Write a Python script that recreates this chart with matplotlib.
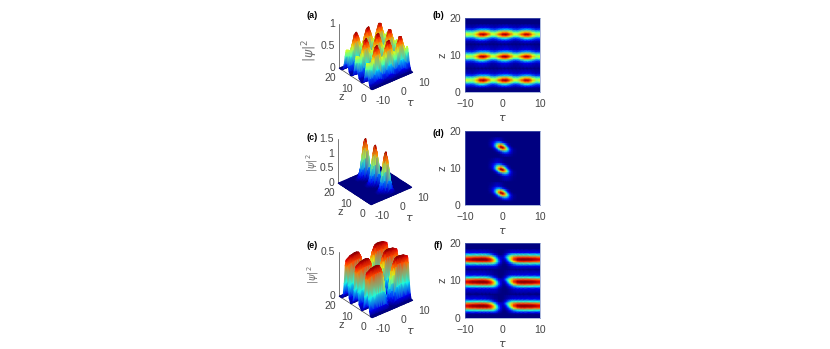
import numpy as np
from matplotlib import pyplot as plt
from mpl_toolkits.mplot3d import proj3d

W, H = 830, 349
GREY = '#444444'
PALE = '#707070'
plt.rcParams['font.family'] = ['Liberation Sans', 'DejaVu Sans']
plt.rcParams['mathtext.fontset'] = 'dejavusans'

# z positions of the three bands and the rows read around each of them
z_a = [0, 1.0, 1.5, 2.1, 2.7, 3.0, 3.3, 3.6, 3.9, 4.5, 5.1, 6.4,
       7.9, 8.5, 9.1, 9.4, 9.7, 10.0, 10.3, 10.9, 11.5, 13,
       13.9, 14.5, 15.1, 15.4, 15.7, 16.0, 16.3, 16.9, 17.5, 18.5, 20]

# panels (a), (b): |psi|^2 read across one band, tau = -10 ... 10
tau_a = [-10, -9, -8, -7, -6, -5, -4, -3, -2, -1, 0, 1, 2, 3, 4, 5, 6, 7, 8, 9, 10]
band_a = [
    [.06, .05, .05, .07, .10, .10, .07, .04, .04, .07, .10, .10, .07, .04, .04, .07, .10, .10, .07, .05, .06],
    [.16, .16, .15, .22, .30, .30, .21, .14, .14, .21, .29, .30, .21, .14, .14, .21, .30, .30, .22, .15, .16],
    [.38, .36, .33, .46, .61, .62, .49, .34, .33, .48, .61, .62, .49, .34, .33, .48, .61, .62, .46, .33, .38],
    [.46, .44, .40, .54, .70, .74, .61, .44, .43, .59, .72, .74, .60, .44, .43, .59, .72, .71, .54, .40, .46],
    [.51, .49, .45, .59, .78, .82, .70, .51, .49, .66, .80, .82, .67, .51, .49, .66, .80, .78, .59, .45, .51],
    [.45, .44, .41, .52, .69, .71, .64, .48, .45, .58, .70, .72, .61, .47, .44, .58, .69, .68, .52, .41, .45],
    [.36, .35, .34, .43, .57, .59, .52, .39, .37, .48, .58, .60, .51, .38, .36, .48, .57, .57, .43, .34, .36],
    [.16, .15, .14, .19, .25, .26, .25, .18, .16, .21, .25, .27, .24, .17, .16, .21, .25, .25, .19, .14, .16],
    [.05, .05, .04, .06, .08, .08, .08, .06, .05, .07, .08, .09, .07, .06, .05, .07, .08, .08, .06, .04, .05],
]

# panels (c), (d)
tau_c = [-10, -4, -3, -2.5, -2, -1.5, -1, -.5, 0, .5, 1, 1.5, 2, 2.5, 3, 4, 10]
band_c = [
    [0, 0, 0, 0, 0, 0, .01, .04, .07, .11, .13, .12, .09, .05, .02, 0, 0],
    [0, 0, 0, 0, .01, .04, .10, .20, .33, .41, .40, .30, .18, .08, .03, 0, 0],
    [0, 0, 0, .02, .07, .20, .43, .73, .96, .98, .78, .49, .24, .09, .03, 0, 0],
    [0, 0, .01, .05, .15, .37, .70, 1.07, 1.25, 1.13, .80, .44, .19, .06, .02, 0, 0],
    [0, 0, .03, .10, .28, .60, 1.01, 1.34, 1.37, 1.10, .68, .33, .12, .04, .01, 0, 0],
    [0, 0, .05, .15, .37, .72, 1.08, 1.25, 1.13, .80, .44, .18, .06, .01, 0, 0, 0],
    [0, 0, .06, .16, .38, .67, .92, 1.0, .84, .55, .28, .11, .03, .01, 0, 0, 0],
    [0, 0, .06, .14, .25, .37, .42, .37, .25, .14, .06, .02, 0, 0, 0, 0, 0],
    [0, 0, .04, .06, .10, .13, .12, .09, .05, .02, .01, 0, 0, 0, 0, 0, 0],
]

# panels (e), (f)
tau_e = [-10, -8, -6, -5, -4, -3, -2.5, -2, -1.5, -1, -.5, 0, .5, 1, 1.5, 2, 2.5, 3, 4, 5, 6, 8, 10]
band_e = [
    [.05, .05, .05, .05, .05, .05, .05, .05, .04, .02, .01, 0, 0, 0, .01, .02, .03, .04, .05, .05, .05, .05, .05],
    [.18, .19, .20, .20, .20, .20, .19, .16, .12, .07, .03, .01, 0, .01, .03, .06, .09, .13, .18, .19, .20, .19, .18],
    [.39, .41, .42, .42, .42, .40, .35, .29, .20, .12, .06, .02, .01, .04, .08, .15, .23, .32, .40, .42, .42, .41, .39],
    [.44, .47, .48, .48, .48, .43, .38, .30, .19, .11, .05, .02, .02, .06, .13, .22, .31, .39, .46, .48, .48, .47, .44],
    [.46, .49, .50, .50, .49, .44, .38, .29, .19, .10, .05, .02, .03, .08, .17, .27, .36, .43, .49, .50, .50, .49, .46],
    [.44, .47, .48, .48, .46, .40, .33, .24, .15, .08, .04, .03, .04, .11, .19, .28, .36, .42, .47, .48, .48, .47, .44],
    [.39, .41, .42, .42, .40, .33, .26, .18, .11, .06, .04, .03, .07, .15, .22, .29, .35, .39, .42, .42, .42, .41, .39],
    [.18, .19, .20, .20, .18, .13, .09, .06, .03, .01, 0, .01, .03, .07, .12, .16, .19, .20, .20, .20, .20, .19, .18],
    [.05, .05, .05, .05, .04, .03, .02, .01, .01, 0, 0, 0, .01, .02, .03, .04, .05, .05, .05, .05, .05, .05, .05],
]

tau_ticks = [-10, 0, 10]
z_ticks = [0, 10, 20]
height_ticks_a = [0, 0.5, 1]
height_ticks_c = [0, 0.5, 1, 1.5]
height_ticks_e = [0, 0.5]


def stack_bands(band):
    empty = [0] * len(band[0])
    return np.array([empty, empty, *band, empty, *band, empty, *band, empty, empty], dtype=float)


def pixel_axes(left, top, width, height, **kw):
    return plt.gcf().add_axes([left / W, 1 - (top + height) / H, width / W, height / H], **kw)


def surface_panel(cx, cy, tau, table, zmax, height_ticks, label, label_xy, ylabel_xy, ylabel_size):
    side = 88
    left, top = cx - 0.514 * side, cy - 0.486 * side

    # 3D axes only give the view matrix, everything is drawn on a plain axes from the projected points
    view = pixel_axes(left, top, side, side, projection='3d')
    view.set_proj_type('ortho')
    view.view_init(elev=32, azim=-129)
    view.set_box_aspect((1, 1, 1))
    view.set_xlim(-10, 10, view_margin=0)
    view.set_ylim(0, 20, view_margin=0)
    view.set_zlim(0, zmax, view_margin=0)
    M = view.get_proj()
    plt.gcf().delaxes(view)

    def project(x, y, z):
        px, py, _ = proj3d.proj_transform(np.ravel(x), np.ravel(y), np.ravel(z), M)
        return np.reshape(px, np.shape(x)), np.reshape(py, np.shape(x))

    ax = pixel_axes(left, top, side, side)
    ax.set_axis_off()
    ax.patch.set_alpha(0)

    def line3d(x, y, z):
        px, py = project(np.array(x, dtype=float), np.array(y, dtype=float), np.array(z, dtype=float))
        ax.plot(px, py, color=GREY, lw=0.5, zorder=0.5, clip_on=False)

    def text3d(x, y, z, s, **kw):
        px, py = project(np.array(float(x)), np.array(float(y)), np.array(float(z)))
        ax.text(float(px), float(py), s, color=GREY, va='center', zorder=3, **kw)

    line3d([-10, -10, 10], [20, 0, 0], [0, 0, 0])
    line3d([-10, -10], [20, 20], [0, zmax])

    for v in height_ticks:
        text3d(-11.2, 21, v, f'{v:g}', fontsize=7.5, ha='right')
    for v in z_ticks:
        text3d(-14.4, v, -0.13 * zmax, str(v), fontsize=7.5, ha='center')
    for v in tau_ticks:
        text3d(v, -6.7, -0.08 * zmax, str(v), fontsize=7.5, ha='center')
    text3d(-17, 10, -0.28 * zmax, 'z', fontsize=8, ha='center')
    text3d(-2.5, -14, -0.1 * zmax, r'$\tau$', fontsize=8, ha='center')

    # smooth colours: table drawn back to front as one gouraud mesh
    T, Z = np.meshgrid(tau, z_a)
    T, Z, C = T[::-1, ::-1], Z[::-1, ::-1], table[::-1, ::-1]
    px, py = project(T, Z, C)
    mesh = ax.pcolormesh(px, py, C, cmap='jet', vmin=0, vmax=table.max(), shading='gouraud', zorder=1)
    mesh.set_clip_on(False)
    # same 2D window as Axes3D uses for its projected coordinates
    ax.set_xlim(-0.095, 0.09)
    ax.set_ylim(-0.095, 0.09)

    plt.figtext(ylabel_xy[0] / W, 1 - ylabel_xy[1] / H, r'$|\psi|^2$', color=PALE, fontsize=ylabel_size,
                rotation=90, ha='center', va='center')
    plt.figtext(label_xy[0] / W, 1 - label_xy[1] / H, label, fontsize=6.5, fontweight='bold',
                ha='center', va='center')


def map_panel(left, top, width, height, tau, table, label, label_xy):
    ax = pixel_axes(left, top, width, height)
    ax.pcolormesh(tau, z_a, table, cmap='jet', vmin=0, vmax=table.max(), shading='gouraud')
    ax.set_xlim(-10, 10)
    ax.set_ylim(0, 20)
    ax.set_xticks(tau_ticks)
    ax.set_yticks(z_ticks)
    ax.tick_params(length=0, labelsize=7.5, colors=GREY)
    ax.tick_params(axis='x', pad=5)
    ax.tick_params(axis='y', pad=3)
    ax.set_xlabel(r'$\tau$', color=GREY, fontsize=8, labelpad=3)
    ax.set_ylabel('z', color=GREY, fontsize=8, labelpad=1, rotation=90)
    for s in ax.spines.values():
        s.set_linewidth(0.4)
        s.set_color('#6a80c0')
    plt.figtext(label_xy[0] / W, 1 - label_xy[1] / H, label, fontsize=6.5, fontweight='bold',
                ha='center', va='center')


fig = plt.figure(figsize=(W / 100, H / 100), dpi=100)

table_a = stack_bands(band_a)
table_c = stack_bands(band_c)
table_e = stack_bands(band_e)

surface_panel(376, 48, tau_a, table_a, 1.0, height_ticks_a, '(a)', (312, 15), (310, 50), 9)
surface_panel(375, 163, tau_c, table_c, 1.5, height_ticks_c, '(c)', (312, 138), (312, 163), 7)
surface_panel(376, 276, tau_e, table_e, 0.5, height_ticks_e, '(e)', (312, 246), (313, 275), 7)

map_panel(465, 18, 75, 74, tau_a, table_a, '(b)', (438, 15))
map_panel(465, 131, 75, 74, tau_c, table_c, '(d)', (438, 133))
map_panel(465, 243, 75, 75, tau_e, table_e, '(f)', (438, 245))

fig.savefig('out.png', dpi=100)
